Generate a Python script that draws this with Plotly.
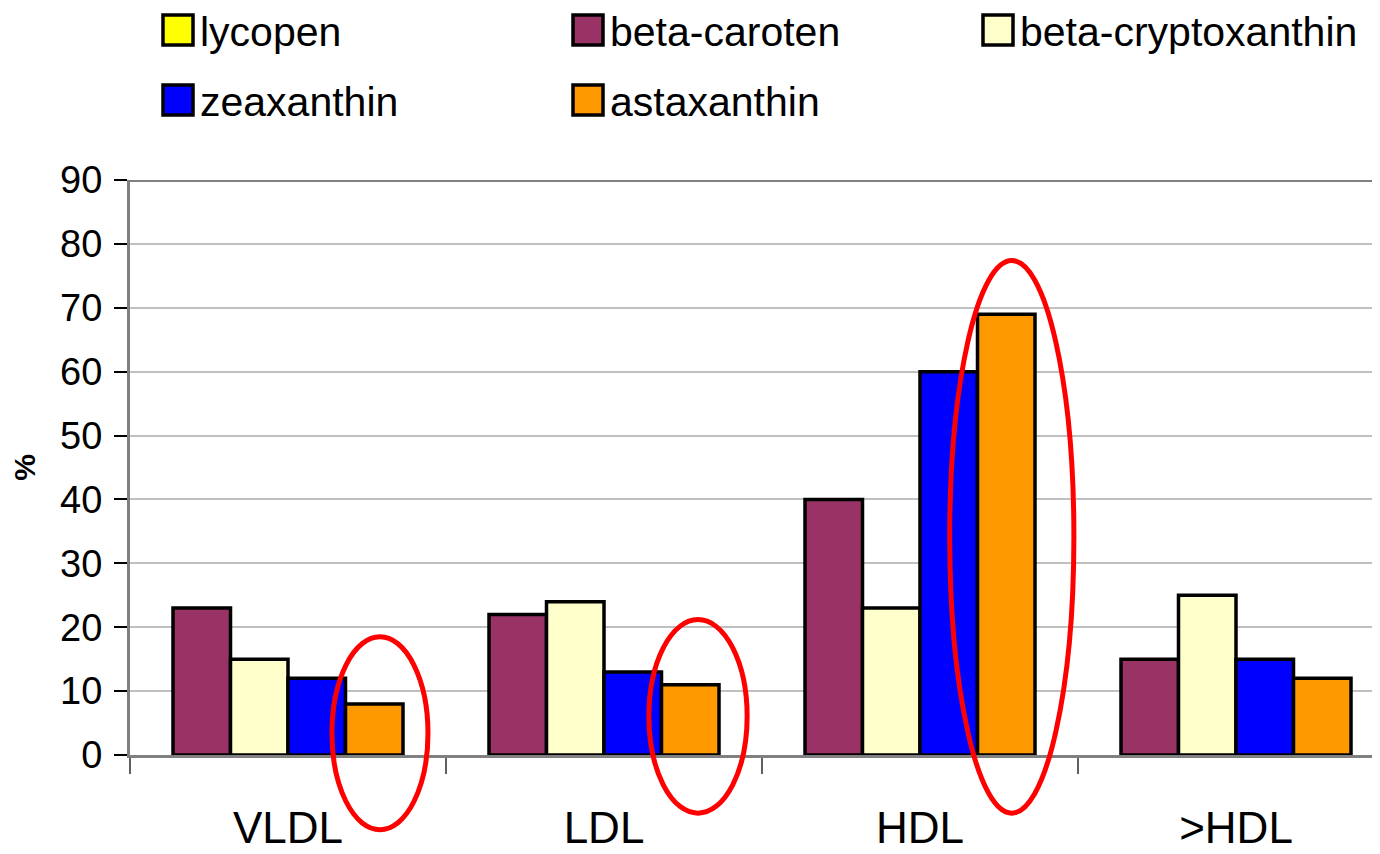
import plotly.graph_objects as go

# ---------------- data ----------------
categories = ["VLDL", "LDL", "HDL", ">HDL"]
legend_names = ["lycopen", "beta-caroten", "beta-cryptoxanthin", "zeaxanthin", "astaxanthin"]
legend_colors = ["#FFFF00", "#993366", "#FFFFCC", "#0000FF", "#FF9900"]

beta_caroten = [23, 22, 40, 15]
beta_cryptoxanthin = [15, 24, 23, 25]
zeaxanthin = [12, 13, 60, 15]
astaxanthin = [8, 11, 69, 12]

series = [
    ("beta-caroten", beta_caroten, "#993366"),
    ("beta-cryptoxanthin", beta_cryptoxanthin, "#FFFFCC"),
    ("zeaxanthin", zeaxanthin, "#0000FF"),
    ("astaxanthin", astaxanthin, "#FF9900"),
]

y_ticks = [0, 10, 20, 30, 40, 50, 60, 70, 80, 90]
Y_MAX = 90

# highlighted regions (ellipses) in data units: (x0, x1, y0, y1)
ellipses = [
    (0.139, 0.443, -11.7, 18.5),
    (1.142, 1.453, -9.1, 21.2),
    (2.094, 2.487, -9.1, 77.4),
]

# ---------------- layout geometry ----------------
OFF = 8  # page body margin around the figure
W, H = 1380 - OFF, 854 - OFF
ML, MR, MT, MB = 130 - OFF, 0, 180 - OFF, 99
PW = W - ML - MR
PH = H - MT - MB
CAT_PX = 316
x_range = [-0.5, -0.5 + PW / CAT_PX]

def px_to_paper_x(px):  # px in page pixels
    return (px - OFF - ML) / PW

def px_to_paper_y(py):
    return (H - MB - (py - OFF)) / PH

def data_to_paper_x(v):
    return (v - x_range[0]) / (x_range[1] - x_range[0])

def data_to_paper_y(v):
    return v / Y_MAX

FONT = "Liberation Sans, Arial, sans-serif"

fig = go.Figure()
for name, vals, color in series:
    fig.add_trace(go.Bar(
        x=categories, y=vals, name=name,
        marker=dict(color=color, line=dict(color="black", width=3.5)),
        showlegend=False,
    ))

shapes = []
annotations = []

# frame line at the top of the value axis
shapes.append(dict(type="line", xref="paper", yref="y", x0=0, x1=1, y0=Y_MAX, y1=Y_MAX,
                   line=dict(color="#808080", width=4), layer="above"))

# red ellipses
for (x0, x1, y0, y1) in ellipses:
    shapes.append(dict(type="circle", xref="paper", yref="paper",
                       x0=data_to_paper_x(x0), x1=data_to_paper_x(x1),
                       y0=data_to_paper_y(y0), y1=data_to_paper_y(y1),
                       line=dict(color="#FF0000", width=5), layer="above"))

# manual legend (3 columns)
col_x = [163, 573, 983]
row_y = [30, 100]
BOX = 30
for i, (name, color) in enumerate(zip(legend_names, legend_colors)):
    c, r = i % 3, i // 3
    bx, by = col_x[c], row_y[r]
    shapes.append(dict(type="rect", xref="paper", yref="paper",
                       x0=px_to_paper_x(bx), x1=px_to_paper_x(bx + BOX),
                       y0=px_to_paper_y(by - BOX / 2), y1=px_to_paper_y(by + BOX / 2),
                       fillcolor=color, line=dict(color="black", width=3.5)))
    annotations.append(dict(xref="paper", yref="paper",
                            x=px_to_paper_x(bx + BOX + 6), y=px_to_paper_y(by + 2),
                            xanchor="left", yanchor="middle", showarrow=False,
                            borderpad=0,
                            text=name, font=dict(family=FONT, size=41, color="black")))

fig.update_layout(
    width=W, height=H,
    margin=dict(l=ML, r=MR, t=MT, b=MB, autoexpand=False),
    paper_bgcolor="white", plot_bgcolor="white",
    barmode="group", bargap=1 - 4 * 57.5 / CAT_PX, bargroupgap=0,
    showlegend=False,
    font=dict(family=FONT, color="black"),
    shapes=shapes, annotations=annotations,
)

fig.update_xaxes(
    range=x_range, type="category",
    showline=True, linecolor="#808080", linewidth=3,
    ticks="outside", tickson="boundaries", ticklen=16, tickwidth=2, tickcolor="#606060",
    tickfont=dict(family=FONT, size=44, color="black"),
    ticklabelstandoff=32,
    showgrid=False,
)
fig.update_yaxes(
    range=[0, Y_MAX], tickvals=y_ticks,
    showline=True, linecolor="#808080", linewidth=3,
    ticks="outside", ticklen=13, tickwidth=2, tickcolor="black",
    tickfont=dict(family=FONT, size=38, color="black"),
    ticklabelstandoff=4,
    showgrid=True, gridcolor="#C0C0C0", gridwidth=1.5,
    zeroline=False,
    title=dict(text="<b>%</b>", font=dict(family=FONT, size=30, color="black"), standoff=40),
)

fig.write_html("out.html")
